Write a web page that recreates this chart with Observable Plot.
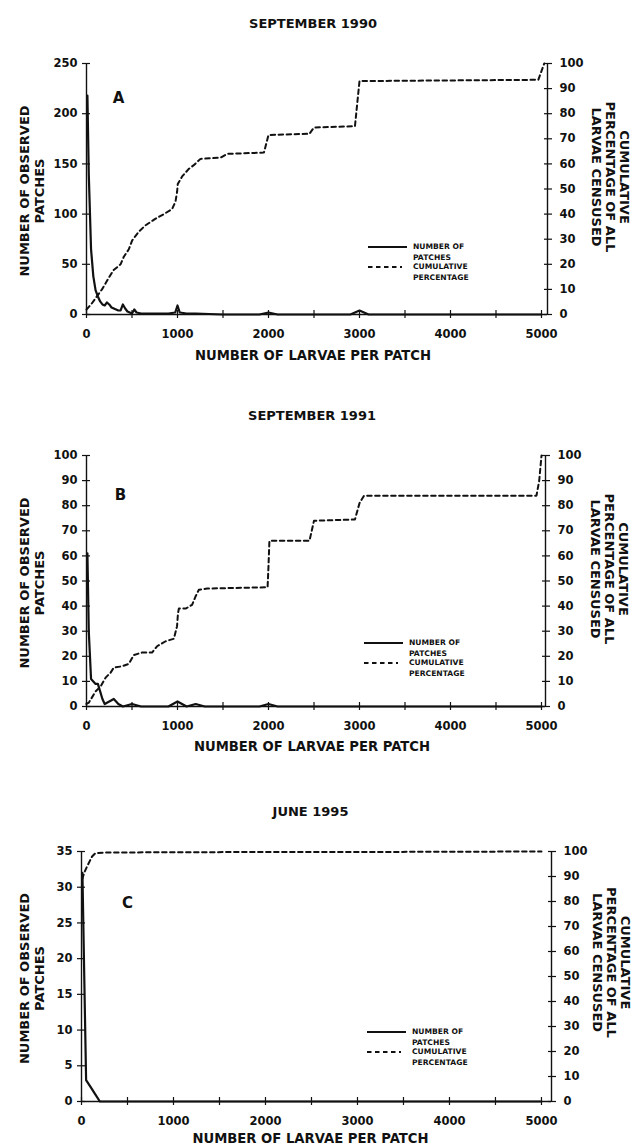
<!DOCTYPE html>
<html>
<head>
<meta charset="utf-8">
<script src="https://cdn.jsdelivr.net/npm/d3@7"></script>
<script src="https://cdn.jsdelivr.net/npm/@observablehq/plot@0.6"></script>
<style>
  html, body { margin: 0; padding: 0; background: #fff; overflow: hidden; }
  #page { position: relative; width: 634px; height: 1148px; overflow: hidden; background: #fff;
          font-family: "DejaVu Sans", sans-serif; font-weight: bold; color: #111; }
  .panel { position: absolute; left: 0; width: 634px; }
  .panel svg { overflow: visible; }
  .legend { position: absolute; }
</style>
</head>
<body>
<div id="page"></div>
<script>
// ---------- tick labels ----------
const xTicks = [0, 500, 1000, 1500, 2000, 2500, 3000, 3500, 4000, 4500, 5000];
const pctTicks = [0, 10, 20, 30, 40, 50, 60, 70, 80, 90, 100];
const leftTicksA = [0, 50, 100, 150, 200, 250];
const leftTicksB = [0, 10, 20, 30, 40, 50, 60, 70, 80, 90, 100];
const leftTicksC = [0, 5, 10, 15, 20, 25, 30, 35];

// ---------- text ----------
const panelTitles = ["SEPTEMBER 1990", "SEPTEMBER 1991", "JUNE 1995"];
const panelLetters = ["A", "B", "C"];
const xTitle = "NUMBER OF LARVAE PER PATCH";
const yLeftTitle = "NUMBER OF OBSERVED\nPATCHES";
const yRightTitle = "CUMULATIVE\nPERCENTAGE OF ALL\nLARVAE CENSUSED";
const legendLabels = [["NUMBER OF", "PATCHES"], ["CUMULATIVE", "PERCENTAGE"]];

// ---------- panel A: September 1990 ----------
const countA_x = [10, 25, 50, 75, 100, 125, 150, 175, 200, 225, 250, 275, 300, 325, 350, 375, 400, 425, 450, 475, 500, 525, 550, 600, 700, 800, 900, 975, 1000, 1025, 1100, 1200, 1500, 1900, 2000, 2100, 2500, 2900, 3000, 3100, 3500, 4000, 4500, 5000];
const countA_y = [218, 140, 65, 38, 24, 18, 13, 10, 9, 12, 10, 7, 6, 5, 4, 4, 10, 6, 3, 2, 1, 5, 2, 1, 1, 1, 1, 2, 9, 2, 1, 1, 0, 0, 2, 0, 0, 0, 4, 0, 0, 0, 0, 0];
const cumA_x = [0, 50, 110, 170, 227, 293, 374, 410, 465, 502, 575, 648, 751, 850, 941, 978, 996, 1003, 1051, 1124, 1179, 1253, 1473, 1546, 1950, 2000, 2450, 2500, 2950, 3000, 4965, 5030];
const cumA_y = [2, 4, 7, 10, 13.5, 17.5, 20, 23, 26, 29.5, 33, 35.5, 38, 40, 42, 45, 49, 52, 55, 58, 59.5, 62, 62.5, 64, 64.5, 71.5, 72, 74.5, 75, 93, 93.5, 100];

// ---------- panel B: September 1991 ----------
const countB_x = [10, 25, 50, 75, 100, 125, 150, 175, 200, 250, 300, 350, 400, 500, 600, 700, 800, 900, 1000, 1100, 1200, 1300, 1500, 1900, 2000, 2100, 2500, 3000, 3500, 4000, 4500, 5000];
const countB_y = [61, 30, 11, 10, 9, 9, 6, 3, 1, 2, 3, 1, 0, 1, 0, 0, 0, 0, 2, 0, 1, 0, 0, 0, 1, 0, 0, 0, 0, 0, 0, 0];
const cumB_x = [0, 25, 100, 155, 210, 265, 300, 390, 465, 520, 610, 720, 775, 870, 960, 995, 1005, 1015, 1090, 1160, 1200, 1235, 1325, 1990, 2000, 2010, 2450, 2500, 2950, 3000, 3050, 4945, 4975, 5000];
const cumB_y = [1, 1.5, 6, 8, 11.5, 13.5, 15.5, 16, 17, 20.5, 21.5, 21.5, 24, 26, 27, 32, 37, 39, 39, 40.5, 44, 46.5, 47, 47.5, 56, 66, 66, 74, 74.5, 81, 84, 84, 90, 100];

// ---------- panel C: June 1995 ----------
const countC_x = [10, 50, 100, 150, 200, 500, 1000, 1500, 2000, 2500, 3000, 3500, 4000, 4500, 5000];
const countC_y = [32, 3, 2, 1, 0, 0, 0, 0, 0, 0, 0, 0, 0, 0, 0];
const cumC_x = [8, 30, 60, 115, 150, 250, 1000, 2000, 3000, 4000, 5000];
const cumC_y = [89, 91.5, 94, 98, 99.3, 99.6, 99.7, 99.8, 99.8, 99.9, 100];

// ---------- layout (positions & styles, not data) ----------
const INK = "#111";
const layouts = [
  {top: 0,   height: 380, marginLeft: 86, marginRight: 87, marginBottom: 66, xMax: 5066,
   leftMax: 250, leftTicks: leftTicksA, cx: countA_x, cy: countA_y, px: cumA_x, py: cumA_y,
   letterDx: 32, letterDy: 35, titleDx: -4, xTitleDy: 41, yTitleDx: -55, rTitleDx: 63, rTitleDy: -12, legendTop: 240, legendLeft: 365},
  {top: 392, height: 380, marginLeft: 86, marginRight: 89, marginBottom: 66, xMax: 5044,
   leftMax: 100, leftTicks: leftTicksB, cx: countB_x, cy: countB_y, px: cumB_x, py: cumB_y,
   letterDx: 34, letterDy: 40, titleDx: -4, xTitleDy: 40, yTitleDx: -55, rTitleDx: 64, rTitleDy: -12, legendTop: 244, legendLeft: 361},
  {top: 788, height: 360, marginLeft: 81, marginRight: 83, marginBottom: 47, xMax: 5109,
   leftMax: 35, leftTicks: leftTicksC, cx: countC_x, cy: countC_y, px: cumC_x, py: cumC_y,
   letterDx: 46, letterDy: 52, titleDx: -6, xTitleDy: 37, yTitleDx: -50, rTitleDx: 60, rTitleDy: -14, legendTop: 237, legendLeft: 364}
];

const page = document.getElementById("page");

layouts.forEach((L, i) => {
  const counts = L.cx.map((x, j) => ({x, y: L.cy[j]}));
  const cum = L.px.map((x, j) => ({x, p: L.py[j]}));
  const k = L.leftMax / 100;   // percent -> left-axis units

  const txt = {textAnchor: "middle", lineAnchor: "middle", fill: INK};

  const chart = Plot.plot({
    width: 634,
    height: L.height,
    marginTop: 63,
    marginBottom: L.marginBottom,
    marginLeft: L.marginLeft,
    marginRight: L.marginRight,
    style: {fontFamily: "'DejaVu Sans', sans-serif", fontWeight: "bold", fontSize: "11.5px",
            color: INK, background: "transparent", overflow: "visible"},
    x: {domain: [0, L.xMax], label: null},
    y: {domain: [0, L.leftMax], label: null},
    marks: [
      // frame lines: left, right, bottom
      Plot.ruleX([0], {stroke: INK, strokeWidth: 1.4}),
      Plot.ruleX([L.xMax], {stroke: INK, strokeWidth: 1.4}),
      Plot.ruleY([0], {stroke: INK, strokeWidth: 1.4}),
      // axes with crossing ticks
      Plot.axisX(xTicks, {anchor: "bottom", tickSize: 8, dy: -4, tickPadding: 11,
        tickFormat: d => d % 1000 === 0 ? String(d) : "", label: null, strokeWidth: 1.2}),
      Plot.axisY(L.leftTicks, {anchor: "left", tickSize: 8, dx: 4, tickPadding: 5,
        label: null, strokeWidth: 1.2}),
      Plot.axisY(pctTicks.map(t => t * k), {anchor: "right", tickSize: 8, dx: -4, tickPadding: 8,
        tickFormat: v => String(Math.round(v / k)), label: null, strokeWidth: 1.2}),
      // data
      Plot.line(cum, {x: "x", y: d => d.p * k, stroke: INK, strokeWidth: 2, strokeDasharray: "4.5,3.5"}),
      Plot.line(counts, {x: "x", y: "y", stroke: INK, strokeWidth: 2.2}),
      // texts
      Plot.text([panelTitles[i]], {...txt, frameAnchor: "top", dx: L.titleDx, dy: -40, fontSize: 13}),
      Plot.text([panelLetters[i]], {...txt, frameAnchor: "top-left", dx: L.letterDx, dy: L.letterDy, fontSize: 15}),
      Plot.text([xTitle], {...txt, frameAnchor: "bottom", dx: L.titleDx, dy: L.xTitleDy, fontSize: 13.2}),
      Plot.text([yLeftTitle], {...txt, frameAnchor: "left", dx: L.yTitleDx, dy: 2, rotate: -90, fontSize: 13, lineHeight: 1.15}),
      Plot.text([yRightTitle], {...txt, frameAnchor: "right", dx: L.rTitleDx, dy: L.rTitleDy, rotate: 90, fontSize: 13, lineHeight: 1.05})
    ]
  });

  const div = document.createElement("div");
  div.className = "panel";
  div.style.top = L.top + "px";
  div.style.height = L.height + "px";
  div.appendChild(chart);

  // legend (HTML/SVG overlay)
  const ns = "http://www.w3.org/2000/svg";
  const lg = document.createElementNS(ns, "svg");
  lg.setAttribute("class", "legend");
  lg.setAttribute("width", 130);
  lg.setAttribute("height", 46);
  lg.style.left = L.legendLeft + "px";
  lg.style.top = L.legendTop + "px";
  const mkLine = (y, len, dash) => {
    const l = document.createElementNS(ns, "line");
    l.setAttribute("x1", 3); l.setAttribute("x2", 3 + len);
    l.setAttribute("y1", y); l.setAttribute("y2", y);
    l.setAttribute("stroke", INK);
    l.setAttribute("stroke-width", dash ? 2 : 2.2);
    if (dash) l.setAttribute("stroke-dasharray", "4.5,3.5");
    lg.appendChild(l);
  };
  const mkText = (y, s) => {
    const t = document.createElementNS(ns, "text");
    t.setAttribute("x", 48); t.setAttribute("y", y);
    t.setAttribute("dominant-baseline", "middle");
    t.setAttribute("font-family", "'DejaVu Sans', sans-serif");
    t.setAttribute("font-weight", "bold");
    t.setAttribute("font-size", "7.6");
    t.setAttribute("fill", INK);
    t.textContent = s;
    lg.appendChild(t);
  };
  mkLine(7, 39, false);
  mkText(7, legendLabels[0][0]);
  mkText(17.5, legendLabels[0][1]);
  mkLine(27, 34, true);
  mkText(27, legendLabels[1][0]);
  mkText(38, legendLabels[1][1]);
  div.appendChild(lg);

  page.appendChild(div);
});
</script>
</body>
</html>
